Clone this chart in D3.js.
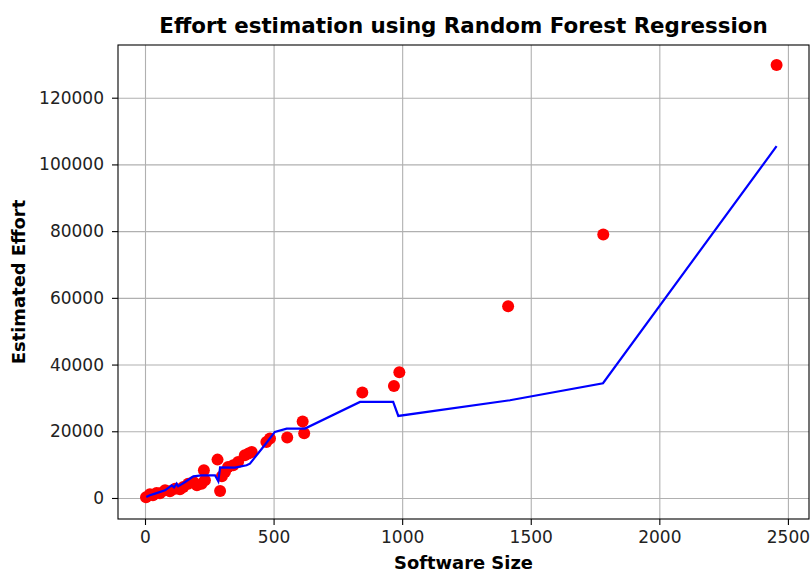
<!DOCTYPE html>
<html>
<head>
<meta charset="utf-8">
<script src="https://cdn.jsdelivr.net/npm/d3@7"></script>
<style>
  body { margin: 0; background: #fff; }
  text { font-family: 'DejaVu Sans', sans-serif; fill: #000; }
  .grid line { stroke: #b0b0b0; stroke-width: 1.1; }
  .grid path { display: none; }
  .axis text { font-size: 17px; fill: #222; }
  .axis line { stroke: #000; stroke-width: 1.1; }
  .axis path { display: none; }
</style>
</head>
<body>
<div class="chart"></div>
<script>
// observed points
const sizes = [4, 19, 31, 45, 58, 78, 97, 117, 136, 149, 168, 188, 202, 220, 233, 229,
    282, 292, 299, 311, 323, 343, 362, 388, 402, 415, 472, 486, 553, 613, 619,
    845, 968, 989, 1412, 1782, 2456];
const efforts = [200, 1100, 800, 1500, 1400, 2300, 2000, 2800, 2600, 3300, 4300, 4800, 3800, 4300, 5300, 8300,
    11500, 2100, 6500, 7800, 9300, 9800, 10800, 12800, 13300, 13800, 16800, 17800, 18100, 22900, 19400,
    31600, 33600, 37700, 57500, 79000, 129800];

// random forest prediction line
const predSizes = [5, 19, 39, 78, 104, 113, 123, 129, 156, 188, 220, 272, 285, 292, 350, 395, 408,
    465, 505, 551, 622, 836, 965, 985, 1419, 1781, 2456];
const predEfforts = [300, 800, 1300, 2300, 3800, 3200, 4300, 3500, 4800, 6500, 6800, 6800, 5000, 9200, 9100, 9800, 10300,
    15800, 19800, 20800, 20800, 28800, 28800, 24600, 29300, 34400, 105500];

const xTicks = [0, 500, 1000, 1500, 2000, 2500];
const yTicks = [0, 20000, 40000, 60000, 80000, 100000, 120000];

const margin = { top: 45, right: 3, bottom: 53, left: 118 },
    width = 812 - margin.left - margin.right,
    height = 572 - margin.top - margin.bottom;

const svg = d3.select('.chart')
    .append('svg')
    .attr('width', 812)
    .attr('height', 572)
    .append('g')
    .attr('transform', `translate(${margin.left},${margin.top})`);

const x = d3.scaleLinear()
    .domain([-105, 2582])
    .range([0, width]);

const y = d3.scaleLinear()
    .domain([-6300, 135800])
    .range([height, 0]);

// grid
svg.append('g')
    .attr('class', 'grid')
    .attr('transform', `translate(0,${height})`)
    .call(d3.axisBottom(x).tickValues(xTicks).tickSize(-height).tickFormat(''));

svg.append('g')
    .attr('class', 'grid')
    .call(d3.axisLeft(y).tickValues(yTicks).tickSize(-width).tickFormat(''));

// axes
svg.append('g')
    .attr('class', 'axis')
    .attr('transform', `translate(0,${height})`)
    .call(d3.axisBottom(x).tickValues(xTicks).tickSize(6).tickPadding(6).tickFormat(d3.format('d')));

svg.append('g')
    .attr('class', 'axis')
    .call(d3.axisLeft(y).tickValues(yTicks).tickSize(6).tickPadding(8).tickFormat(d3.format('d')));

// scatter
svg.selectAll('circle')
    .data(sizes)
    .join('circle')
    .attr('cx', d => x(d))
    .attr('cy', (d, i) => y(efforts[i]))
    .attr('r', 6)
    .attr('fill', '#ff0000');

// prediction line
const line = d3.line()
    .x(d => x(d[0]))
    .y(d => y(d[1]));

svg.append('path')
    .datum(predSizes.map((s, i) => [s, predEfforts[i]]))
    .attr('d', line)
    .attr('fill', 'none')
    .attr('stroke', '#0000ff')
    .attr('stroke-width', 2.2);

// frame
svg.append('rect')
    .attr('width', width)
    .attr('height', height)
    .attr('fill', 'none')
    .attr('stroke', '#000')
    .attr('stroke-width', 1.1);

svg.append('text')
    .text('Effort estimation using Random Forest Regression')
    .attr('x', width / 2)
    .attr('y', -12)
    .attr('text-anchor', 'middle')
    .style('font-size', '21.4px')
    .style('font-weight', 'bold');

svg.append('text')
    .text('Software Size')
    .attr('x', width / 2)
    .attr('y', height + 50)
    .attr('text-anchor', 'middle')
    .style('font-size', '17.9px')
    .style('font-weight', 'bold');

svg.append('text')
    .text('Estimated Effort')
    .attr('transform', 'rotate(-90)')
    .attr('x', -height / 2)
    .attr('y', -93)
    .attr('text-anchor', 'middle')
    .style('font-size', '17.9px')
    .style('font-weight', 'bold');
</script>
</body>
</html>
